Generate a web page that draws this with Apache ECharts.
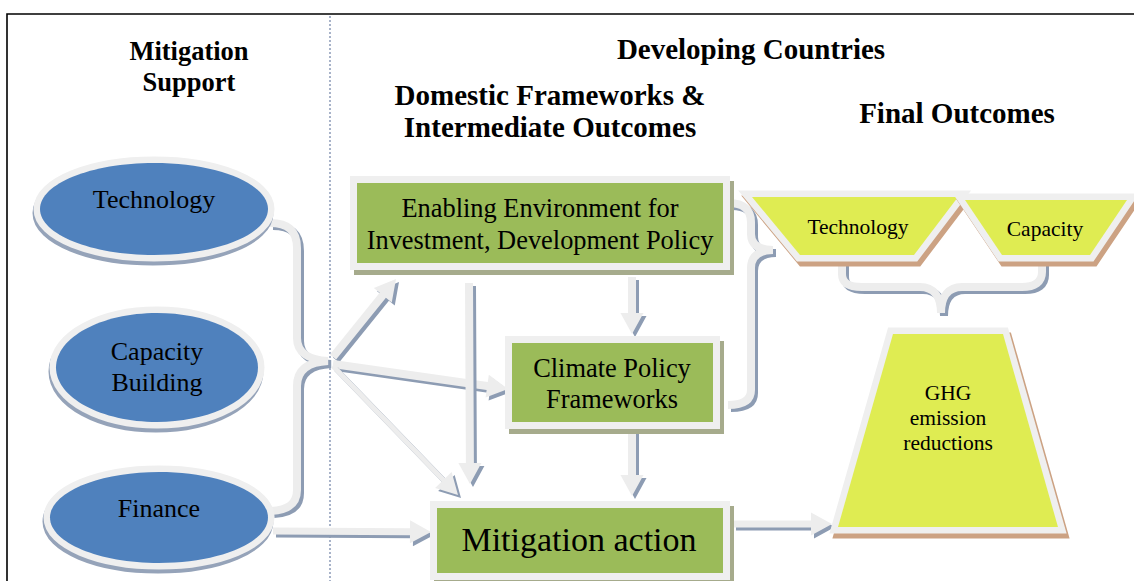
<!DOCTYPE html>
<html><head><meta charset="utf-8">
<script src="https://cdn.jsdelivr.net/npm/echarts@6/dist/echarts.min.js"></script>
<style>html,body{margin:0;padding:0;background:#fff}#chart{width:1134px;height:581px}</style>
</head><body><div id="chart"></div>
<script>
// ---------- content (text of the diagram) ----------
const columnTitles = ['Mitigation\nSupport', 'Developing Countries', 'Domestic Frameworks &\nIntermediate Outcomes', 'Final Outcomes'];
const supportTypes = ['Technology', 'Capacity\nBuilding', 'Finance'];
const frameworkSteps = ['Enabling Environment for\nInvestment, Development Policy', 'Climate Policy\nFrameworks', 'Mitigation action'];
const finalOutcomes = ['Technology', 'Capacity', 'GHG\nemission\nreductions'];
const flowLinks = ['Support→Enabling', 'Support→Climate', 'Support→Mitigation', 'Enabling→Mitigation', 'Enabling→Climate', 'Climate→Mitigation', 'Finance→Mitigation', 'Mitigation→GHG'];
const braceLinks = ['Technology+Finance', 'Enabling+Climate→Outcomes', 'Technology+Capacity→GHG'];

// ---------- layout (diagram space = page pixels) ----------
const W = 1134, H = 581;
const FONT = '"Liberation Serif","Times New Roman",serif';
const layout = {
  titles: [
    {x: 189, y: 66, size: 26.5, lh: 31},
    {x: 751, y: 49, size: 29, lh: 32},
    {x: 550, y: 111, size: 29, lh: 32},
    {x: 957, y: 113, size: 29, lh: 32}
  ],
  ellipses: [
    {cx: 154, cy: 209, rx: 114, ry: 46, ty: 199},
    {cx: 157, cy: 367.5, rx: 101, ry: 54.5, ty: 367},
    {cx: 159, cy: 517.5, rx: 109, ry: 45.5, ty: 508}
  ],
  boxes: [
    {x: 357, y: 183, w: 366, h: 80, tx: 540, ty: 224, size: 26.4, lh: 32},
    {x: 512, y: 343, w: 201, h: 79, tx: 612, ty: 383, size: 26.4, lh: 31},
    {x: 437, y: 508, w: 286, h: 65, tx: 579, ty: 539, size: 34, lh: 40}
  ],
  traps: [
    {pts: [[752,197],[958,197],[914,255],[800,255]], tx: 858, ty: 227, size: 21.5, lh: 25},
    {pts: [[965,200],[1127,200],[1090,255],[1002,255]], tx: 1045, ty: 229, size: 21.5, lh: 25},
    {pts: [[893,334],[1003,334],[1058,527],[838,527]], tx: 948, ty: 418, size: 21.5, lh: 25}
  ],
  arrows: [
    {a: [333,357], b: [396,279], sw: 4},
    {a: [333,364], b: [508,389], sw: 4},
    {a: [333,366], b: [458,495], sw: 2.5},
    {a: [469,283], b: [470,484], sw: 4},
    {a: [632,277], b: [632,334], sw: 4},
    {a: [632,430], b: [632,496], sw: 4},
    {a: [273,531], b: [431,532], sw: 3.5},
    {a: [733,524], b: [832,524], sw: 3.5}
  ],
  braces: [
    [['M',270,223],['C',288,223,297,231,297,248],['L',297,338],['C',297,352,308,360,328,361],
     ['C',308,362,297,370,297,386],['L',297,490],['C',297,504,288,510,271,511]],
    [['M',729,203],['C',744,203,751,210,751,222],['L',751,234],['C',751,245,759,250,773,250],
     ['C',759,250,751,256,751,268],['L',751,390],['C',751,401,742,405,728,405]],
    [['M',842,262],['L',842,274],['C',842,284,850,287,862,287],['L',920,287],['C',933,287,941,296,941,313],
     ['C',941,296,949,287,962,287],['L',1022,287],['C',1035,287,1042,282,1042,272],['L',1042,262]]
  ]
};

const C = {
  ring: '#EFEFEF', blue: '#4F81BD', blueShadow: '#95A3B9',
  green: '#9BBB59', greenShadow: '#A6AB8C',
  yellow: '#DFEC52', brown: '#CCA283',
  arrow: '#EDEDED', arrowShadow: '#8D9CB3', text: '#000'
};

function P(api, x, y) { return api.coord([x, y]); }
function polyPts(api, pts, dx, dy) { return pts.map(p => P(api, p[0] + dx, p[1] + dy)); }
function pathData(api, segs, dx, dy) {
  return segs.map(s => {
    const out = [s[0]];
    for (let i = 1; i < s.length; i += 2) {
      const q = P(api, s[i] + dx, s[i + 1] + dy);
      out.push(q[0].toFixed(2), q[1].toFixed(2));
    }
    return out.join(' ');
  }).join(' ');
}
function arrowPoly(a, b, sw, hw, hl) {
  const dx = b[0] - a[0], dy = b[1] - a[1], L = Math.hypot(dx, dy);
  const ux = dx / L, uy = dy / L, nx = -uy, ny = ux;
  const bx = b[0] - ux * hl, by = b[1] - uy * hl;
  return [[a[0] + nx * sw, a[1] + ny * sw], [bx + nx * sw, by + ny * sw], [bx + nx * hw, by + ny * hw], b,
          [bx - nx * hw, by - ny * hw], [bx - nx * sw, by - ny * sw], [a[0] - nx * sw, a[1] - ny * sw]];
}
function textEl(api, str, x, y, size, lh, bold) {
  const p = P(api, x, y);
  return {type: 'text', z2: 10, style: {text: str, x: p[0], y: p[1], fill: C.text,
    font: (bold ? 'bold ' : '') + size + 'px ' + FONT, align: 'center', verticalAlign: 'middle', lineHeight: lh}};
}
const idx = arr => arr.map((_, i) => [i, 0]);

const series = [
  { // frame and column divider
    type: 'custom', z: 1, silent: true, data: [[0, 0]],
    renderItem: (params, api) => {
      const tl = P(api, 7, 14), tr = P(api, W, 14), bl = P(api, 7, H);
      const dt = P(api, 330, 16), db = P(api, 330, H);
      return {type: 'group', children: [
        {type: 'polyline', shape: {points: [tr, tl, bl]}, style: {stroke: '#000', lineWidth: 1.6, fill: null}},
        {type: 'line', shape: {x1: dt[0], y1: dt[1], x2: db[0], y2: db[1]}, style: {stroke: '#8C9BB8', lineWidth: 1.5, lineDash: [2, 2]}}
      ]};
    }
  },
  { // braces (curved connectors)
    type: 'custom', z: 2, silent: true, data: idx(braceLinks),
    renderItem: (params, api) => {
      const segs = layout.braces[api.value(0)];
      return {type: 'group', children: [
        {type: 'path', shape: {pathData: pathData(api, segs, 3, 3)}, style: {stroke: C.arrowShadow, lineWidth: 8, fill: null}},
        {type: 'path', shape: {pathData: pathData(api, segs, 0, 0)}, style: {stroke: C.arrow, lineWidth: 8, fill: null}}
      ]};
    }
  },
  { // straight flow arrows
    type: 'custom', z: 2, silent: true, data: idx(flowLinks),
    renderItem: (params, api) => {
      const ar = layout.arrows[api.value(0)];
      const pts = arrowPoly(ar.a, ar.b, ar.sw, 11.5, 21);
      return {type: 'group', children: [
        {type: 'polygon', shape: {points: polyPts(api, pts, 3, 3)}, style: {fill: C.arrowShadow}},
        {type: 'polygon', shape: {points: polyPts(api, pts, 0, 0)}, style: {fill: C.arrow}}
      ]};
    }
  },
  { // mitigation support ellipses
    type: 'custom', z: 3, silent: true, data: idx(supportTypes),
    renderItem: (params, api) => {
      const i = api.value(0), e = layout.ellipses[i];
      const c = P(api, e.cx, e.cy), cs = P(api, e.cx - 1, e.cy + 4), r = api.size([e.rx, e.ry]);
      return {type: 'group', children: [
        {type: 'ellipse', shape: {cx: cs[0], cy: cs[1], rx: r[0], ry: r[1]}, style: {fill: C.blueShadow, stroke: C.blueShadow, lineWidth: 13}},
        {type: 'ellipse', shape: {cx: c[0], cy: c[1], rx: r[0], ry: r[1]}, style: {fill: C.ring, stroke: C.ring, lineWidth: 13}},
        {type: 'ellipse', shape: {cx: c[0], cy: c[1], rx: r[0], ry: r[1]}, style: {fill: C.blue}},
        textEl(api, supportTypes[i], e.cx, e.ty, 26, 31, false)
      ]};
    }
  },
  { // framework boxes
    type: 'custom', z: 3, silent: true, data: idx(frameworkSteps),
    renderItem: (params, api) => {
      const i = api.value(0), b = layout.boxes[i];
      const p = P(api, b.x, b.y), ps = P(api, b.x + 4, b.y + 5), s = api.size([b.w, b.h]);
      return {type: 'group', children: [
        {type: 'rect', shape: {x: ps[0], y: ps[1], width: s[0], height: s[1]}, style: {fill: C.greenShadow, stroke: C.greenShadow, lineWidth: 14}},
        {type: 'rect', shape: {x: p[0], y: p[1], width: s[0], height: s[1]}, style: {fill: C.ring, stroke: C.ring, lineWidth: 14}},
        {type: 'rect', shape: {x: p[0], y: p[1], width: s[0], height: s[1]}, style: {fill: C.green}},
        textEl(api, frameworkSteps[i], b.tx, b.ty, b.size, b.lh, false)
      ]};
    }
  },
  { // final outcome trapezoids
    type: 'custom', z: 3, silent: true, data: idx(finalOutcomes),
    renderItem: (params, api) => {
      const i = api.value(0), t = layout.traps[i];
      return {type: 'group', children: [
        {type: 'polygon', shape: {points: polyPts(api, t.pts, 3, 5)}, style: {fill: C.brown, stroke: C.brown, lineWidth: 13, lineJoin: 'miter'}},
        {type: 'polygon', shape: {points: polyPts(api, t.pts, 0, 0)}, style: {fill: C.ring, stroke: C.ring, lineWidth: 13, lineJoin: 'miter'}},
        {type: 'polygon', shape: {points: polyPts(api, t.pts, 0, 0)}, style: {fill: C.yellow}},
        textEl(api, finalOutcomes[i], t.tx, t.ty, t.size, t.lh, false)
      ]};
    }
  },
  { // column titles
    type: 'custom', z: 4, silent: true, data: idx(columnTitles),
    renderItem: (params, api) => {
      const i = api.value(0), t = layout.titles[i];
      return textEl(api, columnTitles[i], t.x, t.y, t.size, t.lh, true);
    }
  }
];

const chart = echarts.init(document.getElementById('chart'), null, {renderer: 'svg'});
chart.setOption({
  animation: false,
  backgroundColor: '#fff',
  grid: {left: 0, right: 0, top: 0, bottom: 0},
  xAxis: {type: 'value', min: 0, max: W, show: false},
  yAxis: {type: 'value', min: 0, max: H, inverse: true, show: false},
  series: series
});
</script></body></html>
